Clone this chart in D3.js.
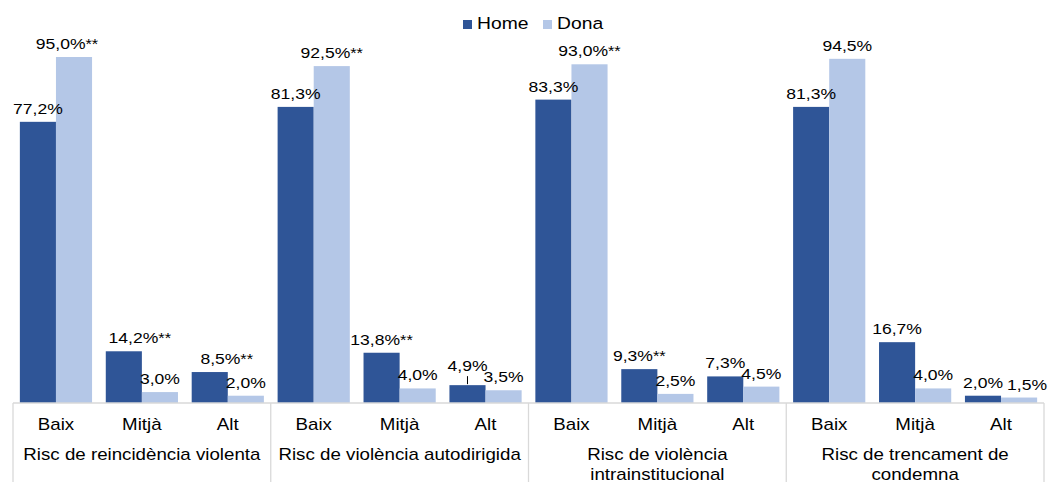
<!DOCTYPE html>
<html>
<head>
<meta charset="utf-8">
<script src="https://cdn.jsdelivr.net/npm/d3@7"></script>
<style>
  html, body { margin: 0; padding: 0; background: #fff; }
  svg { display: block; font-family: "Liberation Sans", Arial, sans-serif; }
</style>
</head>
<body>
<svg id="chart" width="1050" height="482"></svg>
<script>
// ---- data ----
const groups = ["Risc de reincidència violenta", "Risc de violència autodirigida",
                "Risc de violència intrainstitucional", "Risc de trencament de condemna"];
const levels = ["Baix", "Mitjà", "Alt"];
const seriesNames = ["Home", "Dona"];
const homeValues = [77.2, 14.2, 8.5, 81.3, 13.8, 4.9, 83.3, 9.3, 7.3, 81.3, 16.7, 2.0];
const donaValues = [95.0, 3.0, 2.0, 92.5, 4.0, 3.5, 93.0, 2.5, 4.5, 94.5, 4.0, 1.5];
const homeSig = ["", "**", "**", "", "**", "", "", "**", "", "", "", ""];
const donaSig = ["**", "", "", "**", "", "", "**", "", "", "", "", ""];

// ---- layout ----
const colors = { Home: "#2F5597", Dona: "#B4C7E7" };
const left = 13, right = 1044, baseY = 403, topY = 57;
const SX = 1.17; // horizontal text stretch of the original rendering

const svg = d3.select("#chart");

const x0 = d3.scaleBand().domain(groups).range([left, right]).padding(0);
const x1 = d3.scaleBand().domain(levels).range([0, x0.bandwidth()]).padding(0);
const x2 = d3.scaleBand().domain(seriesNames).range([0, x1.bandwidth()]).paddingOuter(0.19).paddingInner(0);
const y = d3.scaleLinear().domain([0, 95]).range([baseY, topY]);

const fmt = v => v.toFixed(1).replace(".", ",") + "%";

function stretchedText(sel, x, yy) {
  return sel.attr("transform", `translate(${x},${yy}) scale(${SX},1)`);
}

// build records
const records = [];
groups.forEach((g, gi) => {
  levels.forEach((l, li) => {
    const i = gi * levels.length + li;
    records.push({ g, gi, l, li, s: "Home", v: homeValues[i], sig: homeSig[i] });
    records.push({ g, gi, l, li, s: "Dona", v: donaValues[i], sig: donaSig[i] });
  });
});
const barX = d => x0(d.g) + x1(d.l) + x2(d.s);

// bars
svg.append("g").selectAll("rect").data(records).join("rect")
  .attr("x", barX)
  .attr("y", d => y(d.v))
  .attr("width", x2.bandwidth())
  .attr("height", d => baseY - y(d.v))
  .attr("fill", d => colors[d.s]);

// label nudges (manual placement as in the original)
const nudgeX = { "0-0-Dona": -7, "0-1-Home": 16, "0-2-Home": 17, "3-2-Dona": 8 };
const raised = { "1-2-Home": 6 };

const lab = svg.append("g").attr("font-size", 15).attr("fill", "#000");
records.forEach(d => {
  const key = `${d.gi}-${d.li}-${d.s}`;
  const cx = barX(d) + x2.bandwidth() / 2 + (nudgeX[key] || 0);
  const up = raised[key] || 0;
  const by = y(d.v) - 8 - up;
  const t = lab.append("text").attr("text-anchor", "middle");
  stretchedText(t, cx, by);
  t.append("tspan").text(fmt(d.v));
  if (d.sig) t.append("tspan").attr("font-size", 14).text(d.sig);
  if (up) {
    lab.append("line")
      .attr("x1", cx).attr("x2", cx)
      .attr("y1", by + 5).attr("y2", y(d.v) - 1)
      .attr("stroke", "#000").attr("stroke-width", 1);
  }
});

// axis lines
const axis = svg.append("g").attr("stroke", "#D9D9D9").attr("stroke-width", 1.3);
axis.append("line").attr("x1", left).attr("x2", right).attr("y1", baseY).attr("y2", baseY);
const seps = groups.map(g => x0(g)).concat([right]);
axis.selectAll("line.sep").data(seps).join("line").attr("class", "sep")
  .attr("x1", d => d).attr("x2", d => d).attr("y1", baseY).attr("y2", 482);

// level tick labels
const tl = svg.append("g").attr("font-size", 16).attr("fill", "#000");
groups.forEach(g => {
  levels.forEach(l => {
    const t = tl.append("text").attr("text-anchor", "middle").text(l);
    stretchedText(t, x0(g) + x1(l) + x1.bandwidth() / 2, 430);
  });
});

// group labels with wrapping
const gl = svg.append("g").attr("font-size", 16).attr("fill", "#000");
groups.forEach(g => {
  const cx = x0(g) + x0.bandwidth() / 2;
  const maxW = x0.bandwidth() - 4;
  const words = g.split(" ");
  const lines = [];
  let cur = [];
  const probe = gl.append("text");
  words.forEach(w => {
    const test = cur.concat([w]).join(" ");
    probe.text(test);
    if (probe.node().getComputedTextLength() * SX > maxW && cur.length) {
      lines.push(cur.join(" "));
      cur = [w];
    } else cur.push(w);
  });
  lines.push(cur.join(" "));
  probe.remove();
  lines.forEach((ln, i) => {
    const t = gl.append("text").attr("text-anchor", "middle").text(ln);
    stretchedText(t, cx, 460 + i * 20);
  });
});

// legend
const leg = svg.append("g").attr("font-size", 16.5).attr("fill", "#000");
const legX = [463, 543];
seriesNames.forEach((s, i) => {
  leg.append("rect").attr("x", legX[i]).attr("y", 20).attr("width", 9).attr("height", 9).attr("fill", colors[s]);
  const t = leg.append("text").text(s);
  stretchedText(t, legX[i] + 14, 29);
});
</script>
</body>
</html>
